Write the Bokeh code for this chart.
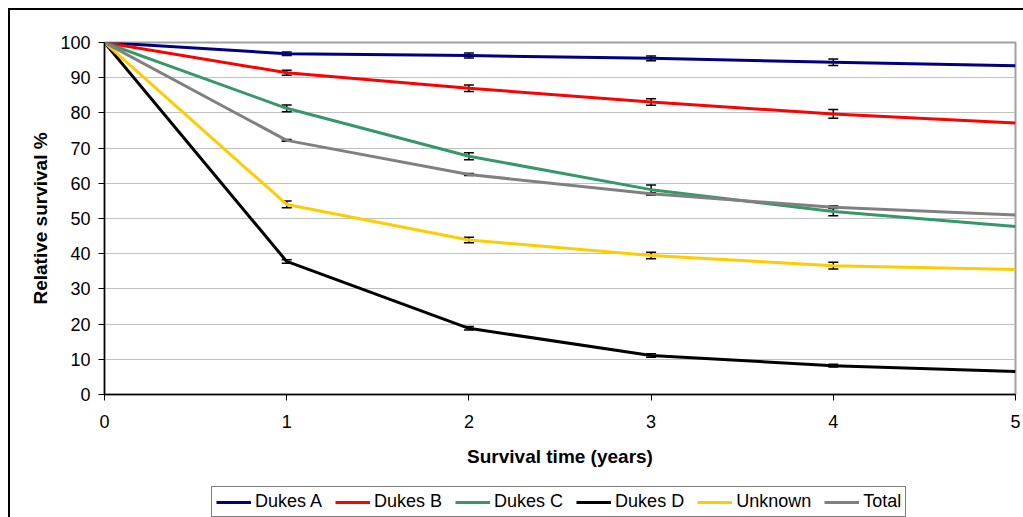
from bokeh.plotting import figure
from bokeh.layouts import column
from bokeh.models import (ColumnDataSource, Whisker, TeeHead, Legend, LegendItem,
                          FixedTicker, Range1d)
from bokeh.embed import file_html
from bokeh.resources import INLINE

# ---- data ----
years = [0, 1, 2, 3, 4, 5]
dukes_a = [100, 96.8, 96.3, 95.5, 94.4, 93.4]
dukes_b = [100, 91.4, 87.0, 83.1, 79.7, 77.1]
dukes_c = [100, 81.3, 67.7, 58.2, 52.0, 47.7]
dukes_d = [100, 37.8, 18.8, 11.1, 8.2, 6.5]
unknown = [100, 54.0, 43.9, 39.5, 36.6, 35.5]
total = [100, 72.2, 62.5, 57.0, 53.2, 51.0]

err_years = [1, 2, 3, 4]
err_a = [0.5, 0.7, 0.65, 0.9]
err_b = [0.7, 0.95, 0.9, 1.25]
err_c = [0.95, 1.0, 1.3, 1.25]
err_d = [0.5, 0.5, 0.5, 0.4]
err_unknown = [0.95, 0.8, 0.9, 0.95]
err_total = [0.25, 0.25, 0.3, 0.35]

series_names = ["Dukes A", "Dukes B", "Dukes C", "Dukes D", "Unknown", "Total"]
series_values = [dukes_a, dukes_b, dukes_c, dukes_d, unknown, total]
series_errors = [err_a, err_b, err_c, err_d, err_unknown, err_total]
series_colors = ["#000080", "#FF0000", "#339966", "#000000", "#FFCC00", "#808080"]

y_ticks = list(range(0, 101, 10))
x_ticks = [0, 1, 2, 3, 4, 5]

FONT = "Liberation Sans"

# ---- main chart ----
p = figure(width=1013, height=467, output_backend="svg", toolbar_location=None,
           x_range=Range1d(0, 5), y_range=Range1d(0, 100),
           min_border_left=94, min_border_right=8, min_border_top=32,
           min_border_bottom=83)
p.background_fill_color = "white"
p.border_fill_color = "white"
p.outline_line_color = "#a0a0a0"
p.outline_line_width = 2

p.xgrid.visible = False
p.ygrid.grid_line_color = "#c0c0c0"
p.ygrid.grid_line_width = 1

p.xaxis.ticker = FixedTicker(ticks=x_ticks)
p.yaxis.ticker = FixedTicker(ticks=y_ticks)
for ax in (p.xaxis, p.yaxis):
    ax.axis_line_color = "black"
    ax.axis_line_width = 1.5
    ax.major_tick_line_color = "black"
    ax.major_tick_line_width = 1
    ax.major_tick_out = 6
    ax.major_tick_in = 0
    ax.minor_tick_line_color = None
    ax.major_label_text_font = FONT
    ax.major_label_text_font_size = "18px"
    ax.major_label_text_color = "black"
    ax.axis_label_text_font = FONT
    ax.axis_label_text_font_size = "19px"
    ax.axis_label_text_font_style = "bold"
    ax.axis_label_text_color = "black"

p.xaxis.axis_label = "Survival time (years)"
p.yaxis.axis_label = "Relative survival %"
p.xaxis.major_label_standoff = 14
p.yaxis.major_label_standoff = 8
p.xaxis.axis_label_standoff = 15
p.yaxis.axis_label_standoff = 6

for name, vals, col in zip(series_names, series_values, series_colors):
    p.line(years, vals, line_color=col, line_width=3, line_join="round")

for vals, errs in zip(series_values, series_errors):
    centers = [vals[years.index(x)] for x in err_years]
    src = ColumnDataSource(dict(
        x=err_years,
        lower=[c - e for c, e in zip(centers, errs)],
        upper=[c + e for c, e in zip(centers, errs)],
    ))
    w = Whisker(source=src, base="x", lower="lower", upper="upper",
                line_color="black", line_width=1.5,
                upper_head=TeeHead(size=10, line_color="black", line_width=1.5),
                lower_head=TeeHead(size=10, line_color="black", line_width=1.5))
    p.add_layout(w)

# ---- legend strip below the chart (same series, outside its visible range) ----
p2 = figure(width=1013, height=40, output_backend="svg", toolbar_location=None,
            x_range=Range1d(0, 5), y_range=Range1d(-2, -1),
            x_axis_location=None, y_axis_location=None,
            min_border_left=0, min_border_right=0, min_border_top=0,
            min_border_bottom=0)
p2.xgrid.visible = False
p2.ygrid.visible = False
p2.outline_line_color = None
p2.background_fill_color = "white"
p2.border_fill_color = "white"

items = []
for name, vals, col in zip(series_names, series_values, series_colors):
    r = p2.line(years, vals, line_color=col, line_width=3)
    items.append(LegendItem(label=name, renderers=[r]))

legend = Legend(items=items, orientation="horizontal", location=(107, 0),
                label_text_font=FONT, label_text_font_size="18px",
                label_text_color="black",
                glyph_width=35, glyph_height=20, label_standoff=4, spacing=13,
                padding=4, margin=0,
                border_line_color="black", border_line_width=1,
                background_fill_color="white", background_fill_alpha=1)
p2.add_layout(legend)

layout = column(p, p2, spacing=0)
layout.styles = {"margin-left": "8px", "margin-top": "8px",
                 "border-left": "2px solid black", "border-top": "2px solid black"}

open("out.html", "w").write(file_html(layout, INLINE))
